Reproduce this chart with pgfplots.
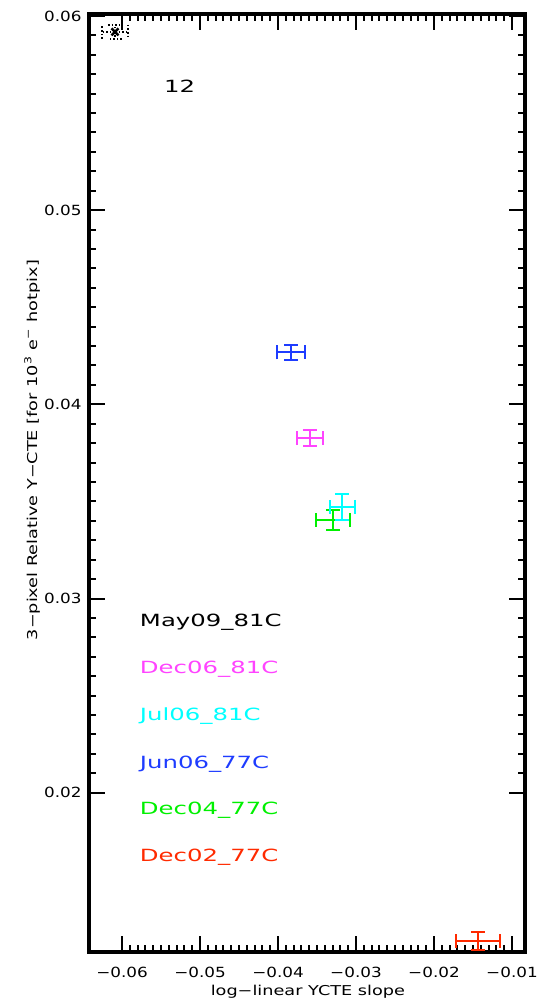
\documentclass[border=0pt]{standalone}
\usepackage{fontspec}
\setmainfont{DejaVu Sans}[FakeStretch=1.2]
\newfontfamily\legfont{DejaVu Sans}[FakeStretch=1.45]
\newfontfamily\labfont{DejaVu Sans}[FakeStretch=1.3]
\usepackage{pgfplots}
\pgfplotsset{compat=1.18}
\definecolor{cMag}{RGB}{255,68,255}
\definecolor{cCyan}{RGB}{0,255,255}
\definecolor{cBlue}{RGB}{30,60,255}
\definecolor{cGreen}{RGB}{0,240,0}
\definecolor{cRed}{RGB}{255,42,0}
\pgfplotsset{
  ebar/.style={only marks, mark=*, mark size=0pt, color=#1,
    error bars/x dir=both, error bars/x explicit,
    error bars/y dir=both, error bars/y explicit,
    error bars/error mark=-,
    error bars/error bar style={line width=1pt, color=#1, solid},
    error bars/error mark options={rotate=90, mark size=3.5pt, line width=1pt, color=#1, solid}},
}
\begin{document}
\begin{tikzpicture}
\useasboundingbox (0,0) rectangle (269pt,502pt);
\begin{axis}[
  at={(44.5pt,26pt)}, anchor=south west,
  scale only axis, width=218pt, height=469pt,
  xmin=-0.06423, xmax=-0.00833, ymin=0.0118, ymax=0.0601,
  scaled ticks=false,
  xtick={-0.06,-0.05,-0.04,-0.03,-0.02,-0.01},
  xticklabels={−0.06,−0.05,−0.04,−0.03,−0.02,−0.01},
  ytick={0.02,0.03,0.04,0.05,0.06},
  yticklabels={0.02,0.03,0.04,0.05,0.06},
  minor tick num=9,
  tick align=inside,
  tick pos=both, xticklabel pos=bottom, yticklabel pos=left,
  major tick length=8pt, minor tick length=3.5pt,
  every tick/.style={black, line width=1pt},
  axis line style={line width=1.6pt},
  tick label style={font=\fontsize{7}{8}\selectfont, inner sep=0.5pt},
  xticklabel style={yshift=-7pt},
  yticklabel style={xshift=-3pt},
  xlabel={log−linear YCTE slope},
  ylabel={3−pixel Relative Y−CTE [for 10\textsuperscript{3} e\textsuperscript{−} hotpix]},
  xlabel style={at={(axis description cs:0.502,-0.0425)}, anchor=center, inner sep=0pt, font=\labfont\fontsize{6.8}{8}\selectfont},
  ylabel style={at={(axis description cs:-0.13,0.535)}, anchor=center, inner sep=0pt, font=\labfont\fontsize{6.8}{8}\selectfont},
  clip=false,
]
\addplot[ebar=cRed] coordinates {(-0.01436,0.01236) +- (0.0028,0.00046)};
\addplot[ebar=cGreen] coordinates {(-0.03295,0.03405) +- (0.0022,0.0005)};
\addplot[ebar=cBlue] coordinates {(-0.03833,0.04267) +- (0.0018,0.00041)};
\addplot[ebar=cCyan] coordinates {(-0.03173,0.03472) +- (0.0016,0.00067)};
\addplot[ebar=cMag] coordinates {(-0.0359,0.03826) +- (0.0017,0.0004)};
\addplot[ebar=black, error bars/error bar style={line width=0.8pt, color=black, densely dotted},
  error bars/error mark options={rotate=90, mark size=3.5pt, line width=0.8pt, color=black, densely dotted}]
  coordinates {(-0.0609,0.05918) +- (0.0017,0.00036)};
\addplot[only marks, mark=x, mark size=2.5pt, mark options={line width=1.2pt}, color=black]
  coordinates {(-0.0609,0.05918)};
\node[anchor=center, font=\legfont\fontsize{8.4}{9}\selectfont] at (axis cs:-0.0526,0.0564) {12};
\node[anchor=west, font=\legfont\fontsize{8.4}{9}\selectfont, text=black] at (axis cs:-0.0586,0.02877) {May09\_81C};
\node[anchor=west, font=\legfont\fontsize{8.4}{9}\selectfont, text=cMag] at (axis cs:-0.0586,0.02636) {Dec06\_81C};
\node[anchor=west, font=\legfont\fontsize{8.4}{9}\selectfont, text=cCyan] at (axis cs:-0.0586,0.02395) {Jul06\_81C};
\node[anchor=west, font=\legfont\fontsize{8.4}{9}\selectfont, text=cBlue] at (axis cs:-0.0586,0.02149) {Jun06\_77C};
\node[anchor=west, font=\legfont\fontsize{8.4}{9}\selectfont, text=cGreen] at (axis cs:-0.0586,0.01908) {Dec04\_77C};
\node[anchor=west, font=\legfont\fontsize{8.4}{9}\selectfont, text=cRed] at (axis cs:-0.0586,0.01667) {Dec02\_77C};
\end{axis}
\end{tikzpicture}
\end{document}
